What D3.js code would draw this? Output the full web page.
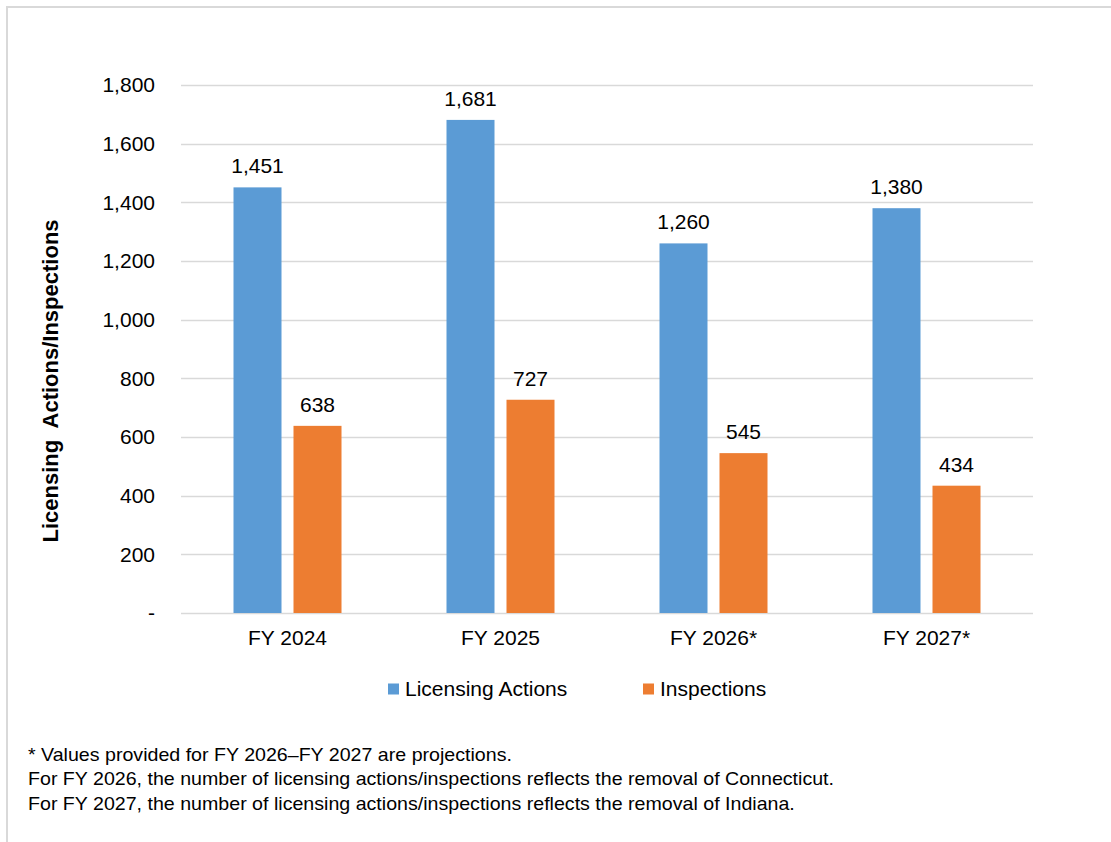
<!DOCTYPE html>
<html><head><meta charset="utf-8">
<script src="https://cdn.jsdelivr.net/npm/d3@7"></script>
<style>body{margin:0;background:#fff;} svg{display:block;font-family:"Liberation Sans",Arial,sans-serif;}</style>
</head><body>
<script>
const categories = ["FY 2024","FY 2025","FY 2026*","FY 2027*"];
const seriesNames = ["Licensing Actions","Inspections"];
const licensing = [1451,1681,1260,1380];
const inspections = [638,727,545,434];
const yTicks = [0,200,400,600,800,1000,1200,1400,1600,1800];
const colors = ["#5b9bd5","#ed7d31"];
const footnotes = [
 "* Values provided for FY 2026\u2013FY 2027 are projections.",
 "For FY 2026, the number of licensing actions/inspections reflects the removal of Connecticut.",
 "For FY 2027, the number of licensing actions/inspections reflects the removal of Indiana."
];

const W=1111,H=842;
const svg=d3.select("body").append("svg").attr("width",W).attr("height",H);
svg.append("path").attr("d",`M7,${H} V7 H${W}`).attr("fill","none").attr("stroke","#d9d9d9").attr("stroke-width",2);

const x0=d3.scaleBand().domain(categories).range([181,1033]);
const x1=d3.scaleBand().domain(seriesNames).range([0,108]).paddingInner(0.2);
const y=d3.scaleLinear().domain([0,1800]).range([613,85]);

const g=svg.append("g");
g.selectAll("line.grid").data(yTicks).join("line").attr("class","grid")
 .attr("x1",181).attr("x2",1033).attr("y1",d=>Math.round(y(d))+0.5).attr("y2",d=>Math.round(y(d))+0.5)
 .attr("stroke","#d9d9d9").attr("stroke-width",1.5);

g.selectAll("text.yt").data(yTicks).join("text").attr("class","yt")
 .attr("x",155).attr("y",d=>y(d)).attr("dy","0.35em").attr("text-anchor","end")
 .attr("font-size",21).attr("fill","#000")
 .text(d=>d===0?"-":d3.format(",")(d));

const data=categories.map((c,i)=>({c,vals:[licensing[i],inspections[i]]}));
const grp=g.selectAll("g.cat").data(data).join("g").attr("class","cat")
 .attr("transform",d=>`translate(${x0(d.c)+x0.bandwidth()/2-54},0)`);
grp.selectAll("rect").data(d=>d.vals.map((v,j)=>({v,s:seriesNames[j],j}))).join("rect")
 .attr("x",d=>x1(d.s)).attr("width",x1.bandwidth())
 .attr("y",d=>y(d.v)).attr("height",d=>y(0)-y(d.v)).attr("fill",d=>colors[d.j]);
grp.selectAll("text").data(d=>d.vals.map((v,j)=>({v,s:seriesNames[j],j}))).join("text")
 .attr("x",d=>x1(d.s)+x1.bandwidth()/2).attr("y",d=>y(d.v)-14)
 .attr("text-anchor","middle").attr("font-size",21).attr("fill","#000")
 .text(d=>d3.format(",")(d.v));

g.selectAll("text.xt").data(categories).join("text").attr("class","xt")
 .attr("x",d=>x0(d)+x0.bandwidth()/2).attr("y",645).attr("text-anchor","middle")
 .attr("font-size",21).attr("fill","#000").text(d=>d);

svg.append("text").attr("transform","translate(58,381) rotate(-90)").attr("text-anchor","middle")
 .attr("font-size",22).attr("font-weight","bold").attr("fill","#000")
 .style("white-space","pre").text("Licensing  Actions/Inspections");

const legX=[388,643];
const leg=svg.selectAll("g.leg").data(seriesNames).join("g").attr("class","leg")
 .attr("transform",(d,i)=>`translate(${legX[i]},689)`);
leg.append("rect").attr("x",0).attr("y",-5.5).attr("width",11).attr("height",11).attr("fill",(d,i)=>colors[i]);
leg.append("text").attr("x",17).attr("y",0).attr("dy","0.35em").attr("font-size",21).attr("fill","#000").text(d=>d);

const fn=svg.append("g").attr("transform","translate(28,0) scale(1.09,1)");
fn.selectAll("text").data(footnotes).join("text")
 .attr("x",0).attr("y",(d,i)=>761+i*24.5).attr("font-size",18)
 .attr("fill","#000").text(d=>d);
</script>
</body></html>
